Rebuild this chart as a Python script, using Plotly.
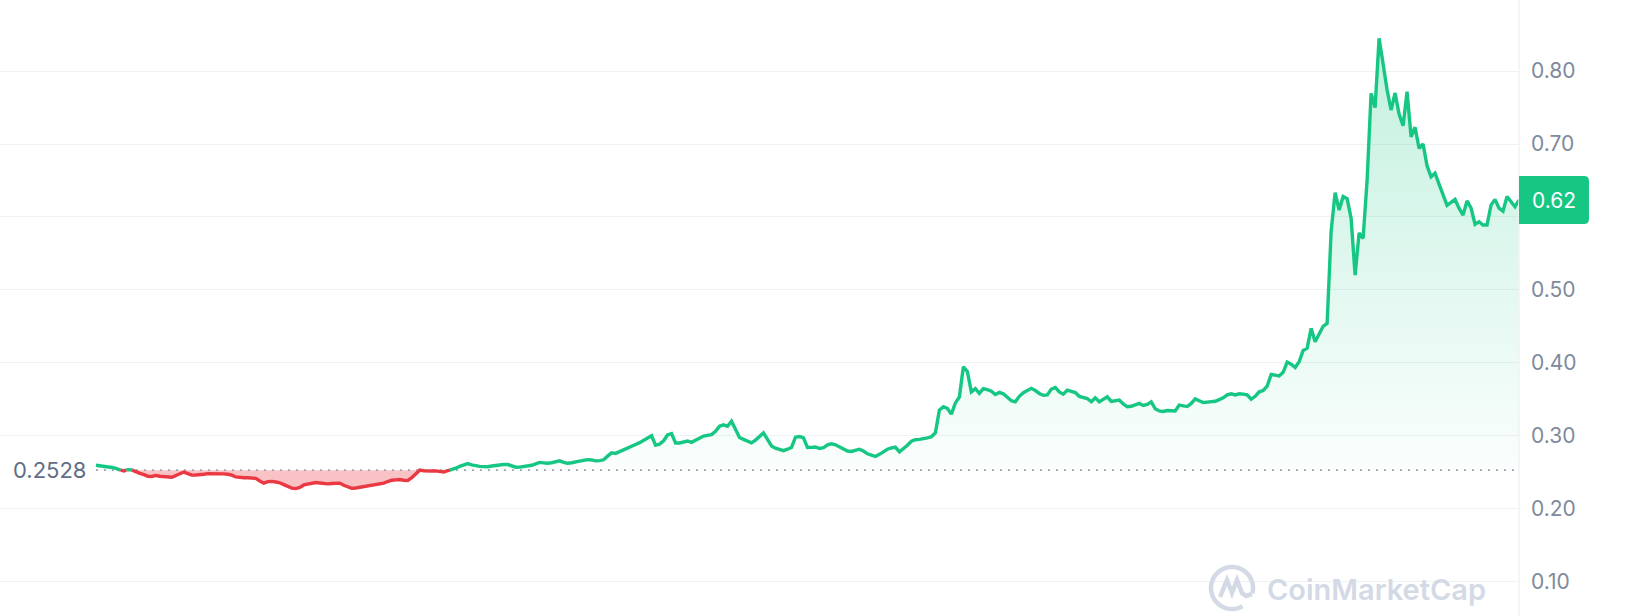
import math
import plotly.graph_objects as go

# ---------------- data ----------------
base_price = 0.2528
base_label = "0.2528"
last_label = "0.62"

prices = [
    0.2595, 0.2590, 0.2584, 0.2578, 0.2565, 0.2552, 0.2530, 0.2518, 0.2535, 0.2530,
    0.2500, 0.2483, 0.2466, 0.2445, 0.2442, 0.2455, 0.2445, 0.2437, 0.2428, 0.2430,
    0.2455, 0.2478, 0.2502, 0.2480, 0.2460, 0.2462, 0.2464, 0.2472, 0.2480, 0.2482,
    0.2480, 0.2478, 0.2477, 0.2472, 0.2460, 0.2435, 0.2427, 0.2424, 0.2423, 0.2420,
    0.2416, 0.2380, 0.2350, 0.2370, 0.2374, 0.2365, 0.2355, 0.2330, 0.2300, 0.2282,
    0.2275, 0.2290, 0.2325, 0.2335, 0.2345, 0.2358, 0.2352, 0.2345, 0.2340, 0.2344,
    0.2352, 0.2350, 0.2320, 0.2295, 0.2280, 0.2283, 0.2293, 0.2302, 0.2310, 0.2320,
    0.2330, 0.2340, 0.2350, 0.2372, 0.2390, 0.2395, 0.2400, 0.2390, 0.2385, 0.2425,
    0.2480, 0.2528, 0.2520, 0.2515, 0.2517, 0.2518, 0.2510, 0.2502, 0.2520, 0.2535,
    0.2555, 0.2580, 0.2605, 0.2618, 0.2600, 0.2585, 0.2580, 0.2577, 0.2575, 0.2585,
    0.2595, 0.2600, 0.2606, 0.2605, 0.2585, 0.2568, 0.2570, 0.2576, 0.2582, 0.2595,
    0.2615, 0.2634, 0.2628, 0.2622, 0.2630, 0.2642, 0.2656, 0.2635, 0.2622, 0.2630,
    0.2645, 0.2652, 0.2662, 0.2672, 0.2668, 0.2655, 0.2658, 0.2670, 0.2720, 0.2765,
    0.2758, 0.2780, 0.2805, 0.2830, 0.2855, 0.2880, 0.2905, 0.2935, 0.2965, 0.2999,
    0.2870, 0.2885, 0.2930, 0.3010, 0.3030, 0.2900, 0.2900, 0.2920, 0.2928, 0.2910,
    0.2935, 0.2970, 0.2996, 0.3005, 0.3015, 0.3060, 0.3130, 0.3150, 0.3130, 0.3200,
    0.3080, 0.2975, 0.2950, 0.2925, 0.2903, 0.2940, 0.2985, 0.3040, 0.2950, 0.2860,
    0.2830, 0.2810, 0.2795, 0.2815, 0.2839, 0.2980, 0.2990, 0.2970, 0.2839, 0.2840,
    0.2846, 0.2825, 0.2835, 0.2875, 0.2890, 0.2875, 0.2848, 0.2820, 0.2790, 0.2785,
    0.2798, 0.2815, 0.2790, 0.2752, 0.2734, 0.2715, 0.2745, 0.2785, 0.2815, 0.2832,
    0.2845, 0.2780, 0.2820, 0.2870, 0.2925, 0.2945, 0.2950, 0.2955, 0.2970, 0.2985,
    0.3040, 0.3351, 0.3397, 0.3374, 0.3296, 0.3450, 0.3530, 0.3945, 0.3880, 0.3602,
    0.3645, 0.3580, 0.3645, 0.3632, 0.3610, 0.3565, 0.3594, 0.3575, 0.3520, 0.3480,
    0.3465, 0.3540, 0.3590, 0.3615, 0.3650, 0.3620, 0.3580, 0.3555, 0.3560, 0.3640,
    0.3662, 0.3600, 0.3570, 0.3626, 0.3610, 0.3592, 0.3540, 0.3530, 0.3510, 0.3465,
    0.3520, 0.3465, 0.3500, 0.3534, 0.3470, 0.3480, 0.3490, 0.3435, 0.3397, 0.3404,
    0.3420, 0.3443, 0.3415, 0.3430, 0.3465, 0.3370, 0.3340, 0.3332, 0.3345, 0.3340,
    0.3340, 0.3420, 0.3408, 0.3400, 0.3443, 0.3505, 0.3480, 0.3455, 0.3460, 0.3468,
    0.3472, 0.3495, 0.3520, 0.3560, 0.3575, 0.3560, 0.3575, 0.3570, 0.3560, 0.3500,
    0.3540, 0.3602, 0.3620, 0.3680, 0.3840, 0.3830, 0.3820, 0.3870, 0.4010, 0.3980,
    0.3935, 0.4014, 0.4170, 0.4200, 0.4472, 0.4288, 0.4400, 0.4500, 0.4540, 0.5800,
    0.6332, 0.6095, 0.6280, 0.6250, 0.5981, 0.5203, 0.5780, 0.5706, 0.6500, 0.7695,
    0.7500, 0.8450, 0.8100, 0.7741, 0.7466, 0.7700, 0.7411, 0.7250, 0.7718, 0.7100,
    0.7230, 0.6941, 0.7000, 0.6700, 0.6550, 0.6600, 0.6450, 0.6300, 0.6160, 0.6200,
    0.6240, 0.6120, 0.6026, 0.6220, 0.6125, 0.5900, 0.5934, 0.5889, 0.5889, 0.6163,
    0.6241, 0.6120, 0.6080, 0.6280, 0.6209, 0.6140, 0.6232,
]

# 0.60 label is hidden behind the last-price badge in the reference
tick_vals = [0.10, 0.20, 0.30, 0.40, 0.50, 0.60, 0.70, 0.80]
tick_text = ["0.10", "0.20", "0.30", "0.40", "0.50", "", "0.70", "0.80"]

# ---------------- styling ----------------
GREEN = "#16c784"
RED = "#ea3943"
GRID = "#eff2f5"
FONT = "Inter"

W, H = 1640, 616
M_R = 121
PLOT_W = W - M_R
Y_RANGE = [0.0528, 0.8975]
LEAD = 24.0  # empty space (in samples) before the first point

# ---------------- split into up/down parts ----------------
n = len(prices)
xs, ys = [], []
for i, p in enumerate(prices):
    xs.append(i)
    ys.append(p)
    if i < n - 1:
        q = prices[i + 1]
        if (p - base_price) * (q - base_price) < 0:
            t = (base_price - p) / (q - p)
            xs.append(i + t)
            ys.append(base_price)

green_y = [y if y >= base_price else None for y in ys]
red_y = [y if y <= base_price else None for y in ys]
upper_y = [max(y, base_price) for y in ys]
lower_y = [min(y, base_price) for y in ys]
base_y = [base_price] * len(xs)

fig = go.Figure()
fig.add_trace(go.Scatter(x=xs, y=base_y, mode="lines", line=dict(width=0),
                         hoverinfo="skip", showlegend=False))
fig.add_trace(go.Scatter(
    x=xs, y=upper_y, mode="lines", line=dict(width=0), fill="tonexty",
    fillgradient=dict(type="vertical",
                      colorscale=[[0, "rgba(22,199,132,0.02)"],
                                  [1, "rgba(22,199,132,0.26)"]],
                      start=base_price, stop=max(prices)),
    hoverinfo="skip", showlegend=False))
fig.add_trace(go.Scatter(x=xs, y=base_y, mode="lines", line=dict(width=0),
                         hoverinfo="skip", showlegend=False))
fig.add_trace(go.Scatter(x=xs, y=lower_y, mode="lines", line=dict(width=0),
                         fill="tonexty", fillcolor="rgba(234,57,67,0.30)",
                         hoverinfo="skip", showlegend=False))
# dotted reference line
fig.add_trace(go.Scatter(x=[0, n - 1], y=[base_price, base_price], mode="lines",
                         line=dict(color="#9aa2b1", width=1.6, dash="2px,6px"),
                         hoverinfo="skip", showlegend=False))
fig.add_trace(go.Scatter(x=xs, y=green_y, mode="lines", connectgaps=False,
                         line=dict(color=GREEN, width=3.4), showlegend=False))
fig.add_trace(go.Scatter(x=xs, y=red_y, mode="lines", connectgaps=False,
                         line=dict(color=RED, width=3.4), showlegend=False))

# ---------------- decorations ----------------
def px_x(px):
    return px / PLOT_W


def px_y(py):
    return 1 - py / H


shapes = [
    dict(type="line", xref="paper", yref="paper", x0=1, x1=1, y0=0, y1=1,
         line=dict(color=GRID, width=1.5), layer="above"),
]

# rounded badge for last price
last = prices[-1]
bx0, bx1 = PLOT_W, PLOT_W + 70
half_h = 24
rad = 5
ypx = (Y_RANGE[1] - Y_RANGE[0]) / H  # data units per pixel
cy = last


def bxp(v):
    return v / PLOT_W


path = (
    f"M {bxp(bx0)},{cy - half_h * ypx} "
    f"L {bxp(bx1 - rad)},{cy - half_h * ypx} "
    f"Q {bxp(bx1)},{cy - half_h * ypx} {bxp(bx1)},{cy - (half_h - rad) * ypx} "
    f"L {bxp(bx1)},{cy + (half_h - rad) * ypx} "
    f"Q {bxp(bx1)},{cy + half_h * ypx} {bxp(bx1 - rad)},{cy + half_h * ypx} "
    f"L {bxp(bx0)},{cy + half_h * ypx} Z"
)
shapes.append(dict(type="path", xref="paper", yref="y", path=path,
                   fillcolor=GREEN, line=dict(width=0), layer="above"))

# watermark logo (open circle with wave)
lc_x, lc_y, lr = 1232, 588, 21
pts = []
for k in range(0, 61):
    ang = math.radians(60 + k * 315 / 60)
    pts.append((lc_x + lr * math.cos(ang), lc_y + lr * math.sin(ang)))
circ = "M " + " L ".join(f"{px_x(a)},{px_y(b)}" for a, b in pts)
shapes.append(dict(type="path", xref="paper", yref="paper", path=circ,
                   line=dict(color="#d3d9e5", width=4.5), layer="above"))
wave_pts = [(-12, 9), (-5, -8), (0, 5), (5, -8), (10, 5), (14, 8), (20, 6)]
wave = "M " + " L ".join(f"{px_x(lc_x + a)},{px_y(lc_y + b)}" for a, b in wave_pts)
shapes.append(dict(type="path", xref="paper", yref="paper", path=wave,
                   line=dict(color="#d3d9e5", width=4.5), layer="above"))

annotations = [
    dict(text=last_label, xref="paper", yref="y", x=bxp((bx0 + bx1) / 2), y=last,
         xanchor="center", yanchor="middle", showarrow=False,
         font=dict(family=FONT, size=21, color="white")),
    dict(text=base_label, xref="paper", yref="y", x=px_x(11), y=base_price,
         xanchor="left", yanchor="middle", showarrow=False,
         font=dict(family=FONT, size=22, color="#616e85")),
    dict(text="CoinMarketCap", xref="paper", yref="paper", x=px_x(1265),
         y=px_y(589), xanchor="left", yanchor="middle", showarrow=False,
         font=dict(family=FONT, size=29, color="#d3d9e5", weight=600)),
]

fig.update_layout(
    width=W, height=H,
    margin=dict(l=0, r=M_R, t=0, b=0),
    paper_bgcolor="white", plot_bgcolor="white",
    showlegend=False,
    xaxis=dict(visible=False, range=[-LEAD, n - 1], fixedrange=True),
    yaxis=dict(range=Y_RANGE, side="right", tickvals=tick_vals, ticktext=tick_text,
               showgrid=True, gridcolor=GRID, gridwidth=1, zeroline=False,
               showline=False, ticks="", ticklabelstandoff=11,
               tickfont=dict(family=FONT, size=21, color="#808a9d"),
               fixedrange=True),
    shapes=shapes,
    annotations=annotations,
    font=dict(family=FONT),
)

fig.write_html("out.html", post_script="document.body.style.margin='0';",
               config={"displayModeBar": False})
